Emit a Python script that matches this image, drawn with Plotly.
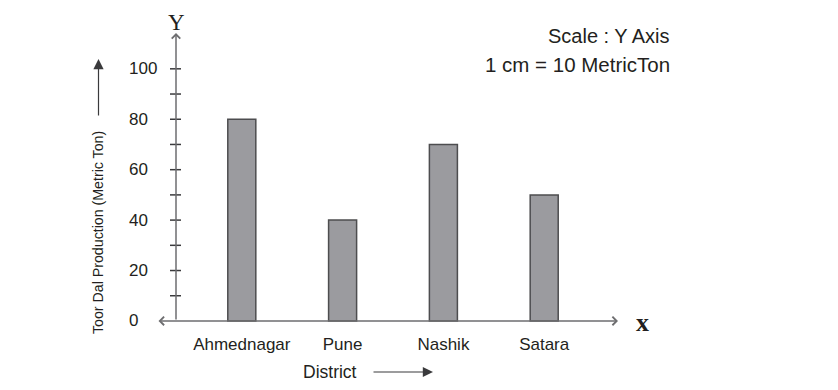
import plotly.graph_objects as go

# ---- data ----
districts = ["Ahmednagar", "Pune", "Nashik", "Satara"]
production = [80, 40, 70, 50]
y_tick_labels = [0, 20, 40, 60, 80, 100]
y_tick_marks = [10, 20, 30, 40, 50, 60, 70, 80, 90, 100]

# ---- layout constants (screen coords; page body adds an 8px offset) ----
W, H = 838, 390
OFF = 8
SL, ST = 141, 31           # screen left / top of plot area
PW, PH = 504, 295
L, T = SL - OFF, ST - OFF
R = W - L - PW
B = H - T - PH
XR = [-1, 4]
YR = [-2, 115]

def xd(px):
    return XR[0] + (px - SL) * (XR[1] - XR[0]) / PW

def yd(py):
    return YR[1] - (py - ST) * (YR[1] - YR[0]) / PH

def xp(px):
    return (px - SL) / PW

def yp(py):
    return (ST + PH - py) / PH

FONT = "Liberation Sans, Arial, sans-serif"
SERIF = "Liberation Serif, Times New Roman, serif"
TXT = "#231f20"
AX = "#6e6e70"

fig = go.Figure()
fig.add_trace(go.Bar(
    x=districts, y=production, width=0.278,
    marker=dict(color="#9b9b9f", line=dict(color="#4d4d4f", width=1.5)),
    hoverinfo="x+y",
))

yaxis_x = xd(176)
shapes = []
for v in y_tick_marks:
    shapes.append(dict(type="line", xref="x", yref="y",
                       x0=xd(170), x1=xd(181), y0=v, y1=v,
                       line=dict(color="#3a3a3c", width=1.5), layer="above"))

ann = []
for v in y_tick_labels:
    ann.append(dict(text=str(v), xref="paper", yref="y", x=xp(127), y=v,
                    xanchor="left", yanchor="middle", showarrow=False,
                    font=dict(family=FONT, size=17, color=TXT)))

ann.append(dict(text="", xref="x", yref="y", x=xd(618), y=0,
                axref="x", ayref="y", ax=xd(157), ay=0,
                showarrow=True, arrowhead=4, startarrowhead=4, arrowside="end+start",
                arrowsize=1.1, arrowwidth=1.5, arrowcolor=AX,
                standoff=0, startstandoff=0))
ann.append(dict(text="", xref="x", yref="y", x=yaxis_x, y=yd(33),
                axref="x", ayref="y", ax=yaxis_x, ay=0,
                showarrow=True, arrowhead=4, arrowsize=1.1, arrowwidth=1.5,
                arrowcolor=AX, standoff=0, startstandoff=0))

ann.append(dict(text="Y", xref="paper", yref="paper", x=xp(176), y=1 + (ST - OFF - 0.5) / PH,
                xanchor="center", yanchor="top", showarrow=False,
                font=dict(family=SERIF, size=23, color=TXT)))
ann.append(dict(text="<b>x</b>", xref="paper", yref="paper", x=xp(642), y=yp(322),
                xanchor="center", yanchor="middle", showarrow=False,
                font=dict(family=SERIF, size=26, color=TXT)))

ann.append(dict(text="Scale : Y Axis", xref="paper", yref="paper", x=xp(672), y=yp(36),
                xanchor="right", yanchor="middle", showarrow=False,
                font=dict(family=FONT, size=20, color=TXT)))
ann.append(dict(text="1 cm = 10 MetricTon", xref="paper", yref="paper", x=xp(672), y=yp(65),
                xanchor="right", yanchor="middle", showarrow=False,
                font=dict(family=FONT, size=20.5, color=TXT)))

ann.append(dict(text="Toor Dal Production (Metric Ton)", xref="paper", yref="paper",
                x=xp(98), y=yp(233), textangle=-90, xanchor="center", yanchor="middle",
                showarrow=False, font=dict(family=FONT, size=14.2, color=TXT)))
ann.append(dict(text="", xref="paper", yref="paper", x=xp(98.5), y=yp(59),
                ax=0, ay=58, showarrow=True, arrowhead=2, arrowsize=1.7,
                arrowwidth=1.2, arrowcolor="#3a3a3c", standoff=0, startstandoff=0))

ann.append(dict(text="District", xref="paper", yref="paper", x=xp(330), y=yp(372),
                xanchor="center", yanchor="middle", showarrow=False,
                font=dict(family=FONT, size=17.5, color=TXT)))
ann.append(dict(text="", xref="paper", yref="paper", x=xp(433), y=yp(372),
                ax=-61, ay=0, showarrow=True, arrowhead=2, arrowsize=1.7,
                arrowwidth=1.2, arrowcolor="#3a3a3c", standoff=0, startstandoff=0))

fig.update_layout(
    width=W, height=H,
    margin=dict(l=L, r=R, t=T, b=B, pad=0),
    paper_bgcolor="white", plot_bgcolor="white",
    showlegend=False,
    shapes=shapes, annotations=ann,
    xaxis=dict(range=XR, showgrid=False, zeroline=False, showline=False,
               ticks="", ticklabelstandoff=6,
               tickfont=dict(family=FONT, size=17, color=TXT), fixedrange=True),
    yaxis=dict(range=YR, showgrid=False, zeroline=False, showline=False,
               showticklabels=False, ticks="", fixedrange=True),
)

fig.write_html("out.html")
